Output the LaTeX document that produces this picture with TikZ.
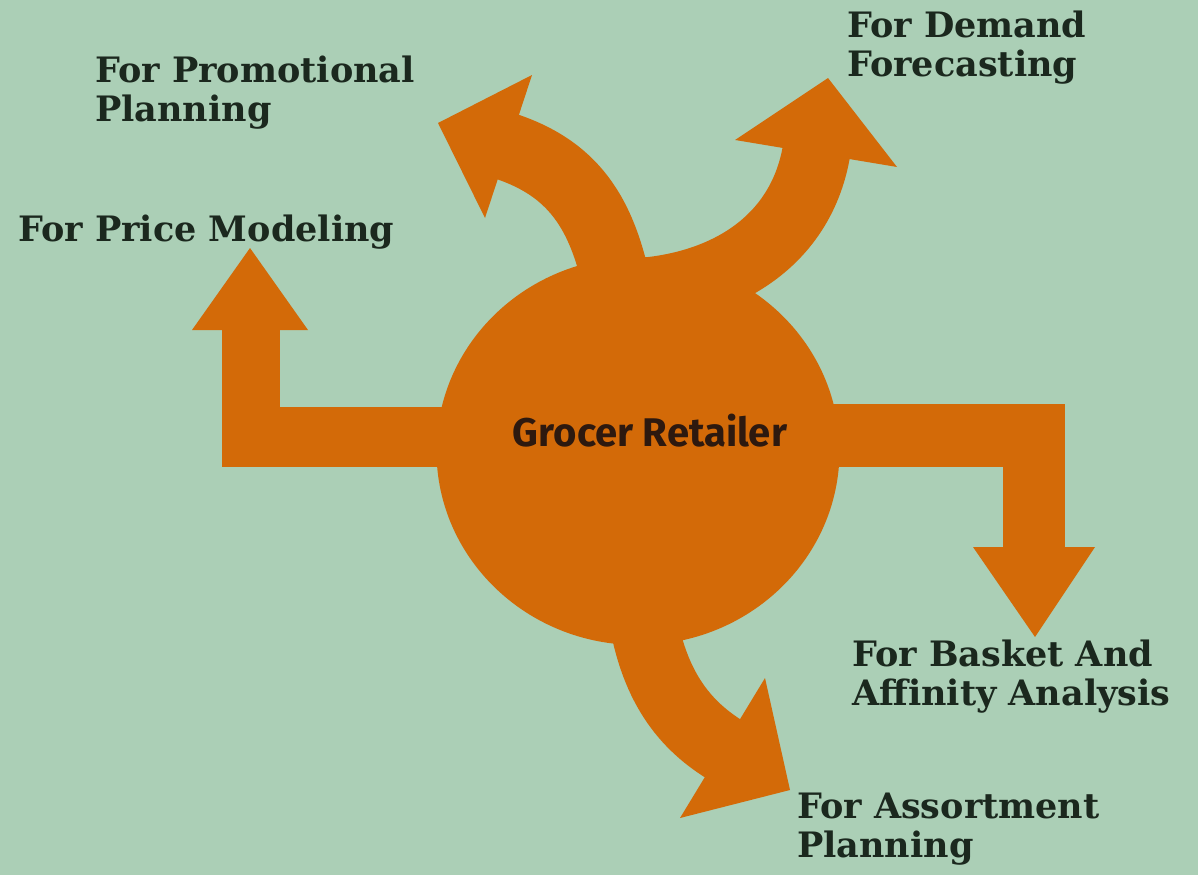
\documentclass[tikz,border=0pt]{standalone}
\usepackage{fontspec}
\usetikzlibrary{shapes.geometric}
\newfontfamily\labelfont{DejaVu Serif}
\newfontfamily\hubfont{Fira Sans}
\definecolor{bgc}{RGB}{171,207,182}
\definecolor{orng}{RGB}{211,106,8}
\definecolor{txt}{RGB}{27,40,30}
\definecolor{hubtxt}{RGB}{45,25,15}
\begin{document}
\begin{tikzpicture}[x=1pt,y=-1pt,
  shaft/.style={draw=orng,line width=68pt,shorten >=-4pt},
  lbl/.style={font=\labelfont\bfseries\fontsize{35}{39}\selectfont,text=txt,align=left,anchor=north west,inner sep=0pt}]
\useasboundingbox (0,0) rectangle (1198,875);
\fill[bgc] (0,0) rectangle (1198,875);
% left arrow (price modeling)
\fill[orng] (222,407) rectangle (480,467);
\fill[orng] (222,330) rectangle (280,467);
\fill[orng] (192,330) -- (308,330) -- (250,248) -- cycle;
% right arrow (basket)
\fill[orng] (800,404) rectangle (1065,467);
\fill[orng] (1003,404) rectangle (1065,547);
\fill[orng] (973,547) -- (1095,547) -- (1035,637) -- cycle;
% promotional
\draw[shaft] (620,300) .. controls (605,220) and (579,170) .. (508,147);
\fill[orng] (532,75) -- (485,218) -- (438,123) -- cycle;
% demand
\draw[shaft] (640,292) .. controls (730,285) and (802,238) .. (816,154);
\fill[orng] (735,140) -- (897,167) -- (828,78) -- cycle;
% assortment
\draw[shaft] (640,600) .. controls (650,680) and (680,722) .. (722,748);
\fill[orng] (765,678) -- (680,818) -- (790,790) -- cycle;
% hub
\node[ellipse,fill=orng,minimum width=403pt,minimum height=388pt,inner sep=0pt] (hub) at (638,451) {};
\node[font=\hubfont\bfseries\fontsize{40}{44}\selectfont,text=hubtxt] (title) at (650,431) {Grocer Retailer};
% labels
\node[lbl] (promo) at (95,56) {For Promotional\\Planning};
\node[lbl] (demand) at (847,11) {For Demand\\Forecasting};
\node[lbl] (price) at (18,215) {For Price Modeling};
\node[lbl] (basket) at (852,640) {For Basket And\\Affinity Analysis};
\node[lbl] (assort) at (797,793) {For Assortment\\Planning};
\end{tikzpicture}
\end{document}
